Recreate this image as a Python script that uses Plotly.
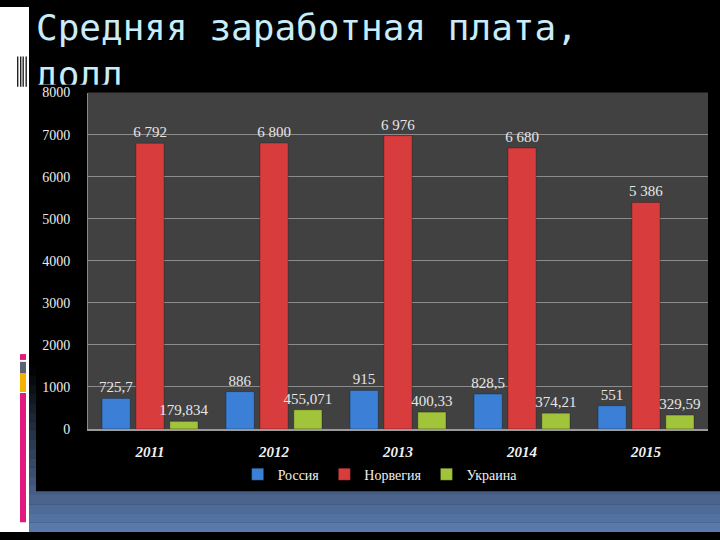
import plotly.graph_objects as go

# ---- data ----
years = ["2011", "2012", "2013", "2014", "2015"]
russia = [725.7, 886, 915, 828.5, 551]
norway = [6792, 6800, 6976, 6680, 5386]
ukraine = [179.834, 455.071, 400.33, 374.21, 329.59]
series_names = ["Россия", "Норвегия", "Украина"]
y_ticks = [0, 1000, 2000, 3000, 4000, 5000, 6000, 7000, 8000]
title_line1 = "Средняя заработная плата,"
title_line2 = "долл"


def ru_fmt(v):
    if v >= 1000:
        return f"{int(v):,}".replace(",", " ")
    return str(v).replace(".", ",")


W, H = 720, 540


def px(xp):
    return xp / W


def py(yp):
    return 1 - yp / H


colors = ["#3b80d6", "#d83c3c", "#a2c43a"]
serif = "Liberation Serif, Times New Roman, serif"
title_font = dict(family="DejaVu Sans Mono, monospace", size=36, color="#c9ecfb")

fig = go.Figure()
for name, vals, col in zip(series_names, [russia, norway, ukraine], colors):
    fig.add_trace(go.Bar(
        x=years, y=vals, name=name,
        marker=dict(color=col, line=dict(color="rgba(0,0,0,0.25)", width=1)),
        text=[ru_fmt(v) for v in vals],
        textposition="outside",
        constraintext="none",
        cliponaxis=False,
        textfont=dict(family=serif, size=15, color="#e6e6e6"),
        hoverinfo="skip",
    ))

# title in a clipping subplot so the second line is cut like the reference
fig.add_trace(go.Scatter(
    x=[36], y=[6], mode="text", text=[title_line1], textposition="bottom right",
    textfont=title_font, xaxis="x2", yaxis="y2", showlegend=False,
    cliponaxis=True, hoverinfo="skip",
))
fig.add_trace(go.Scatter(
    x=[36], y=[54], mode="text", text=[title_line2], textposition="bottom right",
    textfont=title_font, xaxis="x2", yaxis="y2", showlegend=False,
    cliponaxis=True, hoverinfo="skip",
))

shapes = []
# white left strip
shapes.append(dict(type="rect", xref="paper", yref="paper", x0=0, x1=px(29), y0=0, y1=1,
                   fillcolor="white", line_width=0, layer="below"))
# slide background gradient (black -> blue) at the bottom
n = 18
top_c = (0, 0, 0)
bot_c = (0x5c, 0x7d, 0xb0)
y_start, y_end = 370, 540
for i in range(n):
    t = (i + 0.5) / n
    c = tuple(int(top_c[k] + (bot_c[k] - top_c[k]) * t) for k in range(3))
    ya = y_start + (y_end - y_start) * i / n
    yb = y_start + (y_end - y_start) * (i + 1) / n
    shapes.append(dict(type="rect", xref="paper", yref="paper", x0=px(29), x1=1,
                       y0=py(yb), y1=py(ya) + 0.0005, fillcolor="rgb(%d,%d,%d)" % c,
                       line_width=0, layer="below"))
# black chart picture box
shapes.append(dict(type="rect", xref="paper", yref="paper", x0=px(36), x1=1,
                   y0=py(498), y1=py(80), fillcolor="black", line_width=0, layer="below"))
# plot area background
shapes.append(dict(type="rect", xref="paper", yref="paper", x0=px(88), x1=px(708),
                   y0=py(434), y1=py(88), fillcolor="#414141", line_width=0, layer="below"))
# left decorative stripes
for (ya, yb, col) in [(357, 363, "#e2197f"), (365, 377, "#5b6272"),
                      (377, 396, "#f4b301"), (397, 530, "#e2197f")]:
    shapes.append(dict(type="rect", xref="paper", yref="paper", x0=px(20), x1=px(26),
                       y0=py(yb), y1=py(ya), fillcolor=col, line_width=0, layer="below"))
# small barcode decoration
for xb in [17, 20, 22.5, 25.5]:
    shapes.append(dict(type="rect", xref="paper", yref="paper", x0=px(xb), x1=px(xb + 1.4),
                       y0=py(82), y1=py(51), fillcolor="#222222", line_width=0, layer="below"))

fig.update_layout(
    width=W, height=H,
    margin=dict(l=0, r=0, t=0, b=0),
    paper_bgcolor="black",
    plot_bgcolor="rgba(0,0,0,0)",
    barmode="group",
    bargap=0.18,
    bargroupgap=0.17,
    shapes=shapes,
    showlegend=True,
    legend=dict(orientation="h", x=0.528, xanchor="center", y=py(481), yanchor="middle",
                font=dict(family=serif, size=14, color="#f0f0f0"),
                bgcolor="rgba(0,0,0,0)", itemwidth=30),
    xaxis=dict(domain=[px(88), px(708)], type="category",
               showline=True, linecolor="#9a9a9a", linewidth=1.5,
               showgrid=False, ticks="", ticklabelstandoff=8,
               tickfont=dict(family=serif, size=15, color="#f0f0f0", style="italic", weight="bold")),
    yaxis=dict(domain=[py(434), py(88)], range=[0, 8000], tickvals=y_ticks,
               showline=True, linecolor="#8a8a8a", linewidth=1,
               showgrid=True, gridcolor="#8c8c8c", gridwidth=1, zeroline=False,
               ticks="", ticklabelstandoff=14,
               tickfont=dict(family=serif, size=14, color="#ececec")),
    xaxis2=dict(domain=[0, 1], range=[0, 720], visible=False, anchor="y2", fixedrange=True),
    yaxis2=dict(domain=[py(80), 1], range=[80, 0], visible=False, anchor="x2", fixedrange=True),
)

fig.write_html("out.html")
